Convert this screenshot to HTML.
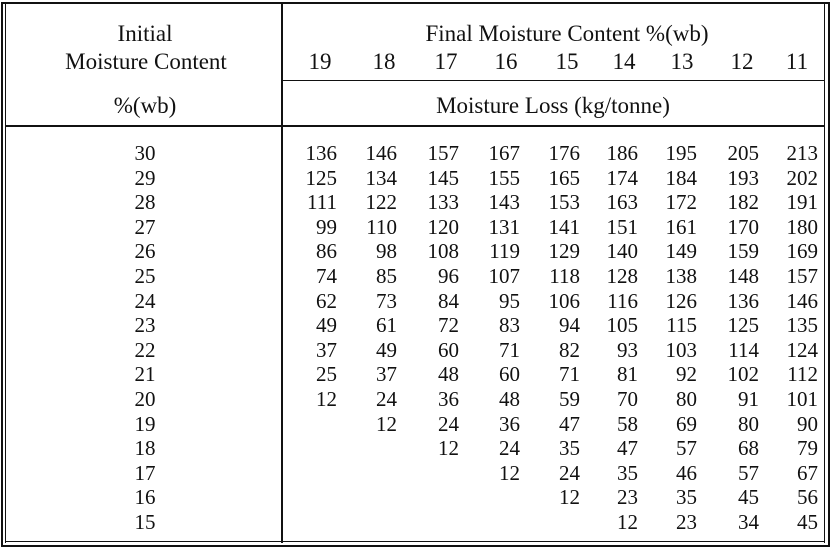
<!DOCTYPE html>
<html><head><meta charset="utf-8"><style>
body{margin:0;width:832px;height:550px;background:#fff;position:relative;overflow:hidden;font-family:"Liberation Serif",serif;color:#111;font-size:21px}
.l{position:absolute;background:#111}
.t{position:absolute;line-height:22px;white-space:nowrap}
.h{font-size:23px;line-height:24px}
.c{transform:translateX(-50%)}
.r{transform:translateX(-100%)}
</style></head><body>
<div class="l" style="left:1px;top:2px;width:2px;height:545px"></div>
<div class="l" style="left:5px;top:2px;width:1px;height:541px"></div>
<div class="l" style="left:828px;top:2px;width:2px;height:545px"></div>
<div class="l" style="left:824px;top:2px;width:1px;height:541px"></div>
<div class="l" style="left:1px;top:2px;width:829px;height:2px"></div>
<div class="l" style="left:1px;top:545px;width:829px;height:2px"></div>
<div class="l" style="left:5px;top:541px;width:820px;height:1px"></div>
<div class="l" style="left:281px;top:2px;width:2px;height:541px"></div>
<div class="l" style="left:281px;top:80px;width:544px;height:1px"></div>
<div class="l" style="left:5px;top:125px;width:820px;height:2px"></div>
<div id="c"></div>
<script>
var h='';
function t(x,y,s,cls){h+='<div class="t '+cls+'" style="left:'+x+'px;top:'+y+'px">'+s+'</div>';}
t(145,22,'Initial','c h');t(146,50,'Moisture Content','c h');t(145,94,'%(wb)','c h');
t(567,22,'Final Moisture Content %(wb)','c h');t(553,94,'Moisture Loss (kg/tonne)','c h');
var cx=[320,384,446,506,567,624,682,742,797];
var hd=[19,18,17,16,15,14,13,12,11];
for(var i=0;i<9;i++)t(cx[i],50,hd[i],'c h');
var re=[337,397,459,520,580,638,697,759,818];
var d=[[136,146,157,167,176,186,195,205,213],[125,134,145,155,165,174,184,193,202],[111,122,133,143,153,163,172,182,191],[99,110,120,131,141,151,161,170,180],[86,98,108,119,129,140,149,159,169],[74,85,96,107,118,128,138,148,157],[62,73,84,95,106,116,126,136,146],[49,61,72,83,94,105,115,125,135],[37,49,60,71,82,93,103,114,124],[25,37,48,60,71,81,92,102,112],[12,24,36,48,59,70,80,91,101],[null,12,24,36,47,58,69,80,90],[null,null,12,24,35,47,57,68,79],[null,null,null,12,24,35,46,57,67],[null,null,null,null,12,23,35,45,56],[null,null,null,null,null,12,23,34,45]];
for(var r=0;r<16;r++){var y=142+r*24.6;t(145,y,30-r,'c');for(var j=0;j<9;j++)if(d[r][j]!=null)t(re[j],y,d[r][j],'r');}
document.getElementById('c').innerHTML=h;
</script>
</body></html>
